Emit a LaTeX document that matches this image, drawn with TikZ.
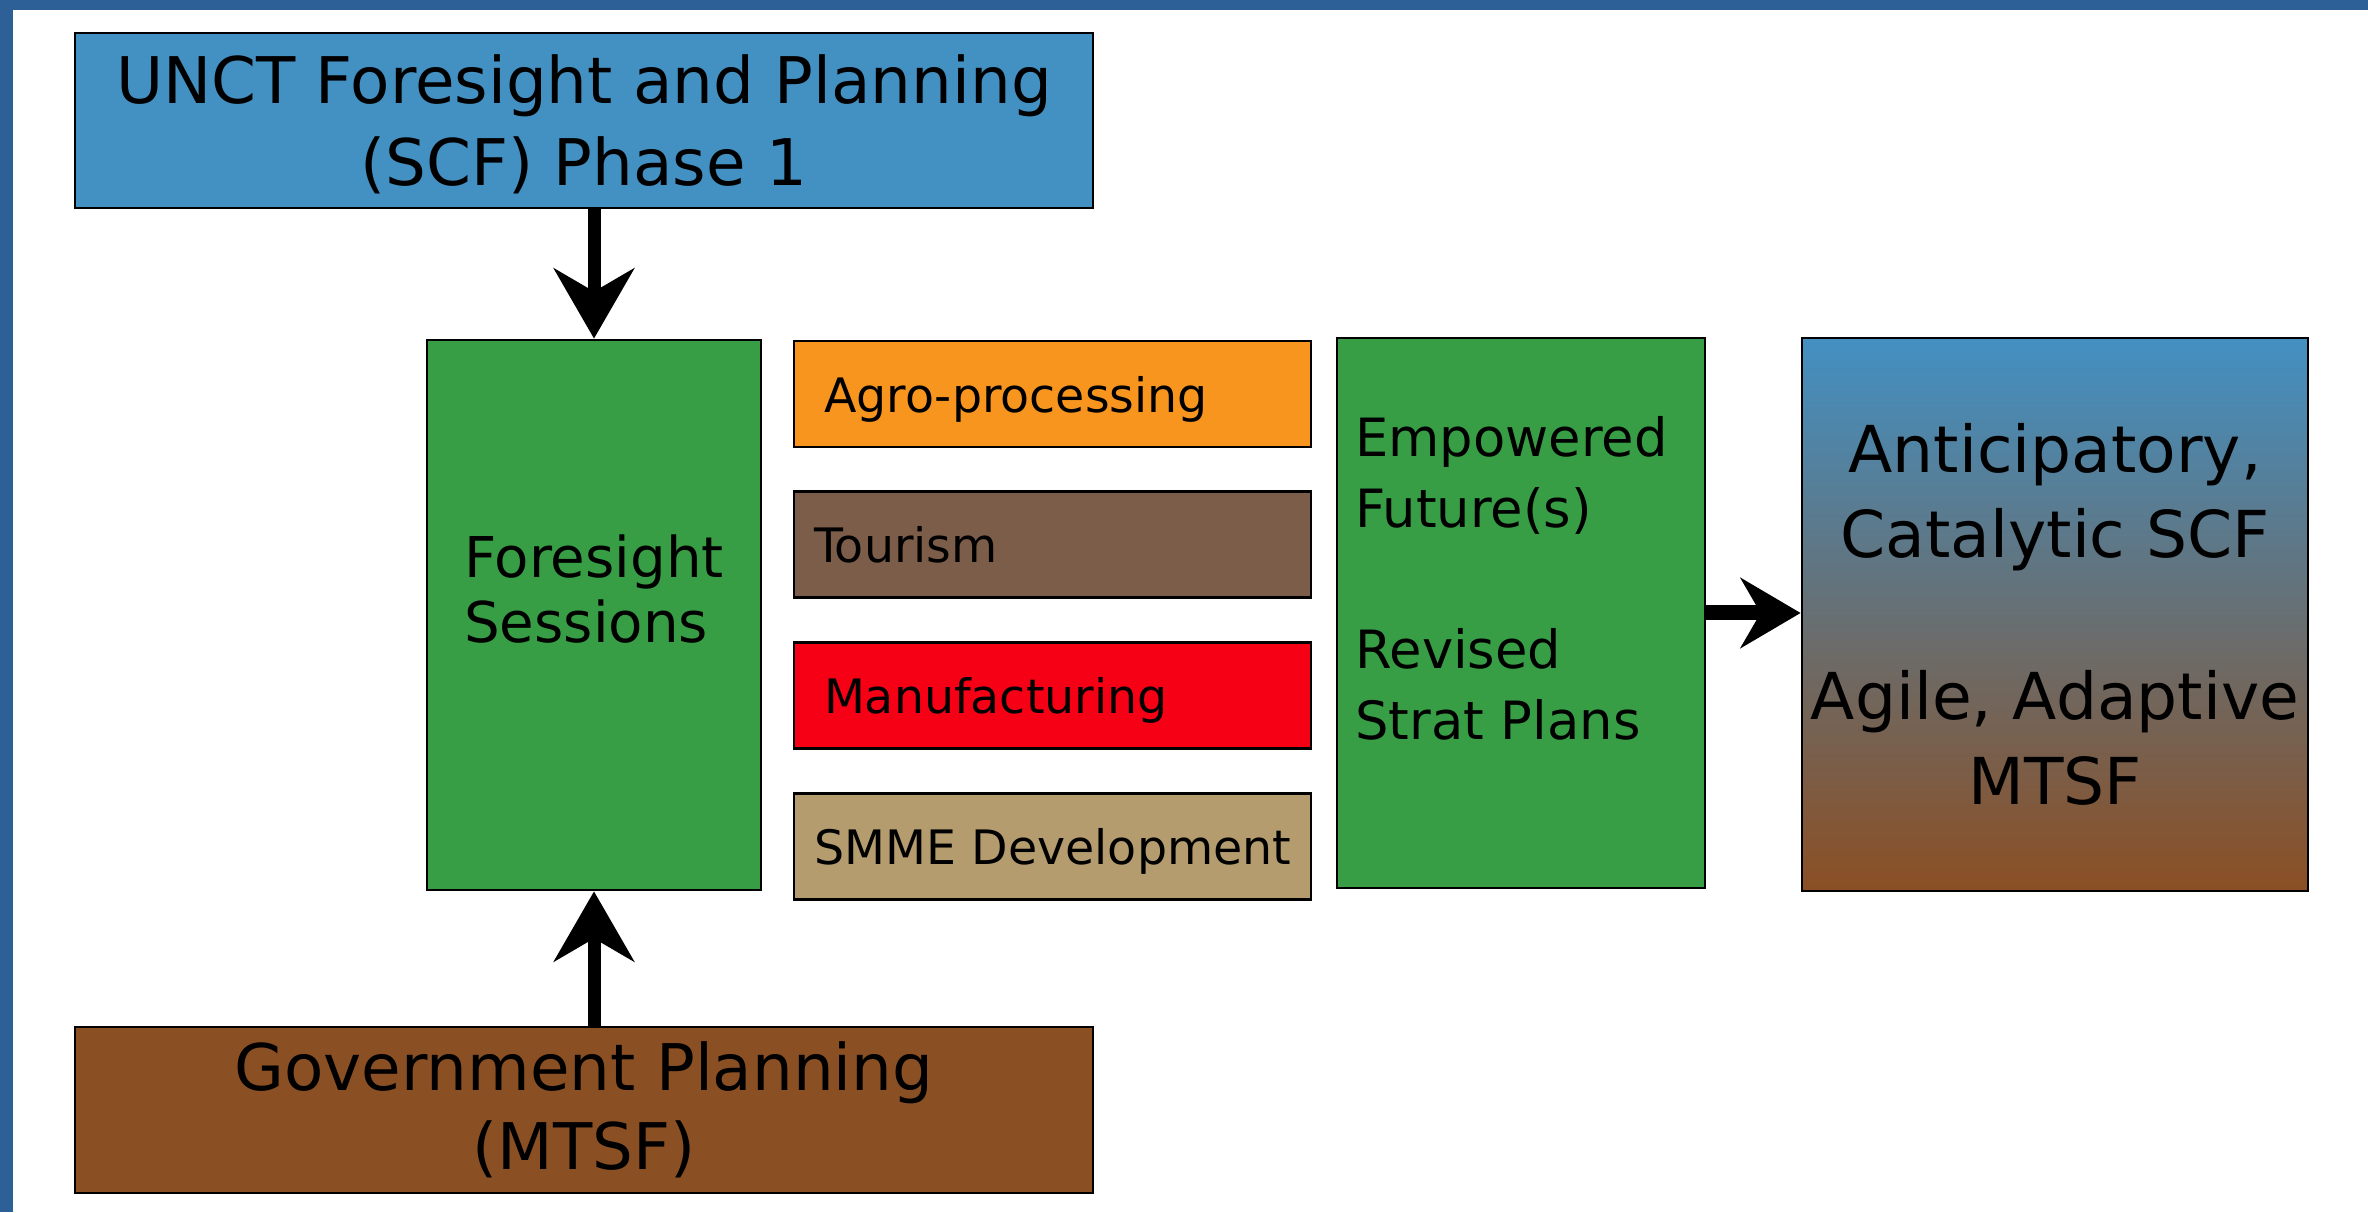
\documentclass[tikz,border=0pt]{standalone}
\usepackage{fontspec}
\setmainfont{DejaVu Sans}
\usetikzlibrary{arrows.meta,positioning}

\definecolor{frameblue}{RGB}{44,96,150}
\definecolor{unctblue}{RGB}{67,144,194}
\definecolor{fsgreen}{RGB}{56,158,69}
\definecolor{agroorange}{RGB}{248,149,31}
\definecolor{tourbrown}{RGB}{124,93,74}
\definecolor{manured}{RGB}{246,0,22}
\definecolor{smmetan}{RGB}{180,156,111}
\definecolor{govbrown}{RGB}{139,79,36}

\begin{document}
\begin{tikzpicture}[node distance= 0.42cm,
    box/.style={draw= black, line width= 0.8pt, inner sep= 0pt},
    sector/.style={box, text width= 4.57cm, inner xsep= 0.3cm, minimum height= 1.06cm,
      align= left, text depth= 0pt, font= \fontsize{13.5}{16}\selectfont},
    flow/.style={line width= 1.3mm, -{Stealth[length= 7mm, width= 8mm, inset= 2.3mm]}}]
      \useasboundingbox (0,0) rectangle (23.68,12.12);
      \fill[frameblue] (0,0) rectangle (23.68,12.12);
      \fill[white] (0.13,0) rectangle (23.68,12.02);
      \begin{scope}[every node/.style={box}]
        \node (unct) [fill= unctblue, minimum width= 10.18cm, minimum height= 1.75cm,
          align= center, text depth= 0pt, font= \fontsize{18.3}{23.3}\selectfont] at (5.84,10.915)
          {UNCT Foresight and Planning\\(SCF) Phase 1};
        \node (fs) [fill= fsgreen, minimum width= 3.34cm, minimum height= 5.5cm] at (5.94,5.97) {};
        \node (agro) [sector, fill= agroorange] at (10.525,8.18) {Agro-processing};
        \node (tour) [sector, fill= tourbrown, text width= 4.77cm, inner xsep= 0.2cm,
          below= of agro] {Tourism};
        \node (manu) [sector, fill= manured, below= of tour] {Manufacturing};
        \node (smme) [sector, fill= smmetan, text width= 4.77cm, inner xsep= 0.2cm,
          below= of manu] {\mbox{SMME Development}};
        \node (emp) [fill= fsgreen, minimum width= 3.68cm, minimum height= 5.5cm] at (15.21,5.99) {};
        \node (ant) [top color= unctblue, bottom color= govbrown, minimum width= 5.06cm,
          minimum height= 5.53cm, align= center, font= \fontsize{18.4}{24.2}\selectfont]
          at (20.55,5.975) {Anticipatory,\\Catalytic SCF\\[22pt]Agile, Adaptive\\MTSF};
        \node (gov) [fill= govbrown, minimum width= 10.18cm, minimum height= 1.66cm,
          align= center, font= \fontsize{18.3}{22.5}\selectfont] at (5.84,1.02)
          {Government Planning\\(MTSF)};
      \end{scope}
      \node (fstext) [align= left, inner sep= 0pt, font= \fontsize{16}{18.5}\selectfont]
        at ([yshift= 0.26cm]fs.center) {Foresight\\Sessions};
      \node (emptext) [anchor= west, align= left, inner sep= 0pt, font= \fontsize{15}{20.2}\selectfont]
        at ([xshift= 0.19cm, yshift= 0.35cm]emp.west) {Empowered\\Future(s)\\[20pt]Revised\\Strat Plans};
      \draw[flow] (unct.south -| fs.north) -- (fs.north);
      \draw[flow] (gov.north -| fs.south) -- (fs.south);
      \draw[flow, line width= 1.5mm, -{Stealth[length= 6mm, width= 7mm, inset= 2mm]}]
        (emp.east) -- (emp.east -| ant.west);
    \end{tikzpicture}
\end{document}
